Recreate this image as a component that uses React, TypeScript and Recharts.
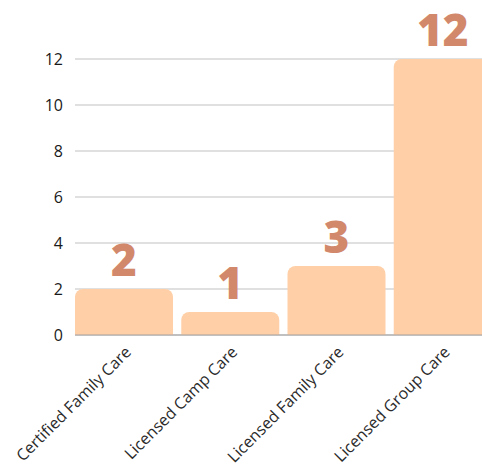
import React from 'react';
import { BarChart, Bar, XAxis, YAxis, CartesianGrid, LabelList } from 'recharts';

const categories = ['Certified Family Care', 'Licensed Camp Care', 'Licensed Family Care', 'Licensed Group Care'];
const counts = [2, 1, 3, 12];
const yTicks = [0, 2, 4, 6, 8, 10, 12];

const data = categories.map((name, i) => ({ name, value: counts[i] }));

export default function App() {
  return (
    <div style={{ position: 'fixed', left: 0, top: 0, width: 482, height: 473, overflow: 'hidden', background: '#fff' }}>
      <BarChart
        width={500}
        height={473}
        data={data}
        margin={{ top: 59, right: 0, bottom: 8, left: 15 }}
        barCategoryGap={4}
      >
        <CartesianGrid vertical={false} stroke="#d6d6d6" strokeWidth={1.3} />
        <XAxis
          dataKey="name"
          height={130}
          interval={0}
          angle={-45}
          textAnchor="end"
          tickLine={false}
          axisLine={{ stroke: '#a0a0a0' }}
          padding={{ left: -4, right: 4 }}
          tick={{ fontSize: 16, fill: '#2a2a2a', fontFamily: 'Open Sans' }}
          tickMargin={4}
        />
        <YAxis
          domain={[0, 12]}
          ticks={yTicks}
          width={60}
          tickLine={false}
          axisLine={false}
          tickMargin={6}
          tick={{ fontSize: 16, fill: '#1a1a1a', fontFamily: 'Open Sans' }}
        />
        <Bar dataKey="value" fill="#ffd0a8" radius={[8, 8, 0, 0]} isAnimationActive={false}>
          <LabelList
            dataKey="value"
            position="top"
            offset={13}
            fill="#d2886b"
            style={{ fontSize: 44, fontWeight: 800, fontFamily: 'Open Sans' }}
          />
        </Bar>
      </BarChart>
    </div>
  );
}
